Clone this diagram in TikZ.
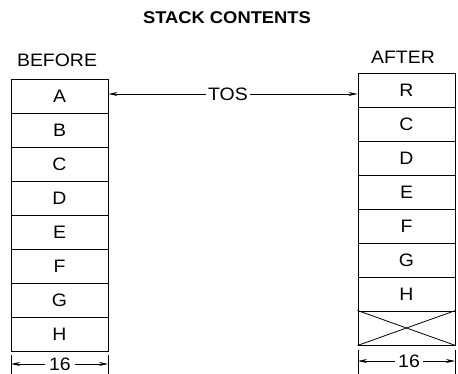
\documentclass[tikz,border=0pt]{standalone}
\usepackage{fontspec}
\setmainfont{Liberation Sans}[FakeStretch=1.08]
\usepackage{tikz}
\usetikzlibrary{arrows.meta, positioning}

\begin{document}
\begin{tikzpicture}[
  x=1pt, y=-1pt,
  every node/.style={font=\fontsize{18}{21}\selectfont},
  cell/.style={draw, line width=0.9pt, minimum width=97pt,
    minimum height=34pt, inner sep=0pt},
  arrow/.style={-{Stealth[length=9pt, width=4pt]}, line width=0.9pt},
  tick/.style={line width=0.9pt},
]
\useasboundingbox (0,0) rectangle (458,374);

\node[font=\fontsize{17}{20}\selectfont\bfseries] (title) at (227,18) {STACK CONTENTS};
\node (before) at (57,60) {BEFORE};
\node (after) at (403,57) {AFTER};

% stack before
\foreach \lbl [count=\i] in {A,B,C,D,E,F,G,H}
  \node[cell] (b\i) at (59.5, 79+17+34.1*\i-34.1) {\lbl};

% stack after
\foreach \lbl [count=\i] in {R,C,D,E,F,G,H,{}}
  \node[cell] (a\i) at (406.5, 73+17+34*\i-34) {\lbl};
\draw[line width=0.8pt] (a8.north west) -- (a8.south east)
  (a8.south west) -- (a8.north east);

% top of stack pointer
\node[inner sep=2pt] (tos) at (228,94) {TOS};
\draw[arrow] (tos) -- (tos -| b1.east);
\draw[arrow] (tos) -- (tos -| a1.west);

% widths
\coordinate (bt1) at (11,355);
\coordinate (bt2) at (108,355);
\coordinate (at1) at (358,350);
\coordinate (at2) at (455,350);
\draw[tick] (bt1) -- ++(0,19) (bt2) -- ++(0,19);
\draw[tick] (at1) -- ++(0,24) (at2) -- ++(0,24);
\node[inner sep=4pt] (bw) at (60,364) {16};
\node[inner sep=3pt] (aw) at (409,361) {16};
\draw[arrow] (bw) -- (bw -| bt1);
\draw[arrow] (bw) -- (bw -| bt2);
\draw[arrow] (aw) -- (aw -| at1);
\draw[arrow] (aw) -- (aw -| at2);
\end{tikzpicture}
\end{document}
